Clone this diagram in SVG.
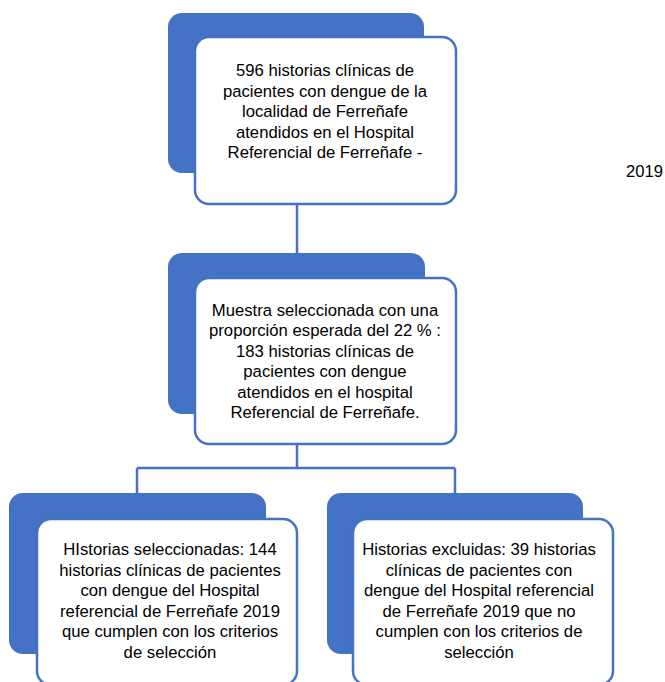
<svg xmlns="http://www.w3.org/2000/svg" width="665" height="682" viewBox="0 0 665 682">
<style>
.back{fill:#4472C4}
.front{fill:#ffffff;stroke:#4472C4;stroke-width:2.5}
.conn{fill:none;stroke:#4472C4;stroke-width:2.5}
text{font-family:"Liberation Sans",Arial,sans-serif;font-size:16.7px;fill:#000000;text-anchor:middle}
</style>
<rect width="665" height="682" fill="#ffffff"/>
<g id="connectors">
<path class="conn" d="M297,204 V253"/>
<path class="conn" d="M297,444 V468 M137,468 H455 M137,468 V493 M455,468 V493"/>
</g>
<g id="node-total">
<rect class="back" x="168" y="13" width="256" height="160" rx="14"/>
<rect class="front" x="195" y="37" width="261" height="167" rx="14"/>
<text x="325" y="76">596 historias clínicas de</text>
<text x="325" y="96.5">pacientes con dengue de la</text>
<text x="325" y="117">localidad de Ferreñafe</text>
<text x="325" y="137.5">atendidos en el Hospital</text>
<text x="325" y="158">Referencial de Ferreñafe -</text>
</g>
<g id="label-2019">
<text x="626" y="177" style="text-anchor:start">2019</text>
</g>
<g id="node-muestra">
<rect class="back" x="168" y="253" width="257" height="161" rx="14"/>
<rect class="front" x="195" y="278" width="261" height="166" rx="14"/>
<text x="325" y="315.5">Muestra seleccionada con una</text>
<text x="325" y="336">proporción esperada del 22 % :</text>
<text x="325" y="356.5">183 historias clínicas de</text>
<text x="325" y="377">pacientes con dengue</text>
<text x="325" y="397.5">atendidos en el hospital</text>
<text x="325" y="418">Referencial de Ferreñafe.</text>
</g>
<g id="node-seleccionadas">
<rect class="back" x="9" y="493" width="257" height="161" rx="14"/>
<rect class="front" x="37" y="519" width="260" height="166" rx="14"/>
<text x="170" y="555">HIstorias seleccionadas: 144</text>
<text x="170" y="575.5">historias clínicas de pacientes</text>
<text x="170" y="596">con dengue del Hospital</text>
<text x="170" y="616.5">referencial de Ferreñafe 2019</text>
<text x="170" y="637">que cumplen con los criterios</text>
<text x="170" y="657.5">de selección</text>
</g>
<g id="node-excluidas">
<rect class="back" x="327" y="493" width="256" height="161" rx="14"/>
<rect class="front" x="353" y="519" width="260" height="166" rx="14"/>
<text x="479" y="555">Historias excluidas: 39 historias</text>
<text x="479" y="575.5">clínicas de pacientes con</text>
<text x="479" y="596">dengue del Hospital referencial</text>
<text x="479" y="616.5">de Ferreñafe 2019 que no</text>
<text x="479" y="637">cumplen con los criterios de</text>
<text x="479" y="657.5">selección</text>
</g>
</svg>
